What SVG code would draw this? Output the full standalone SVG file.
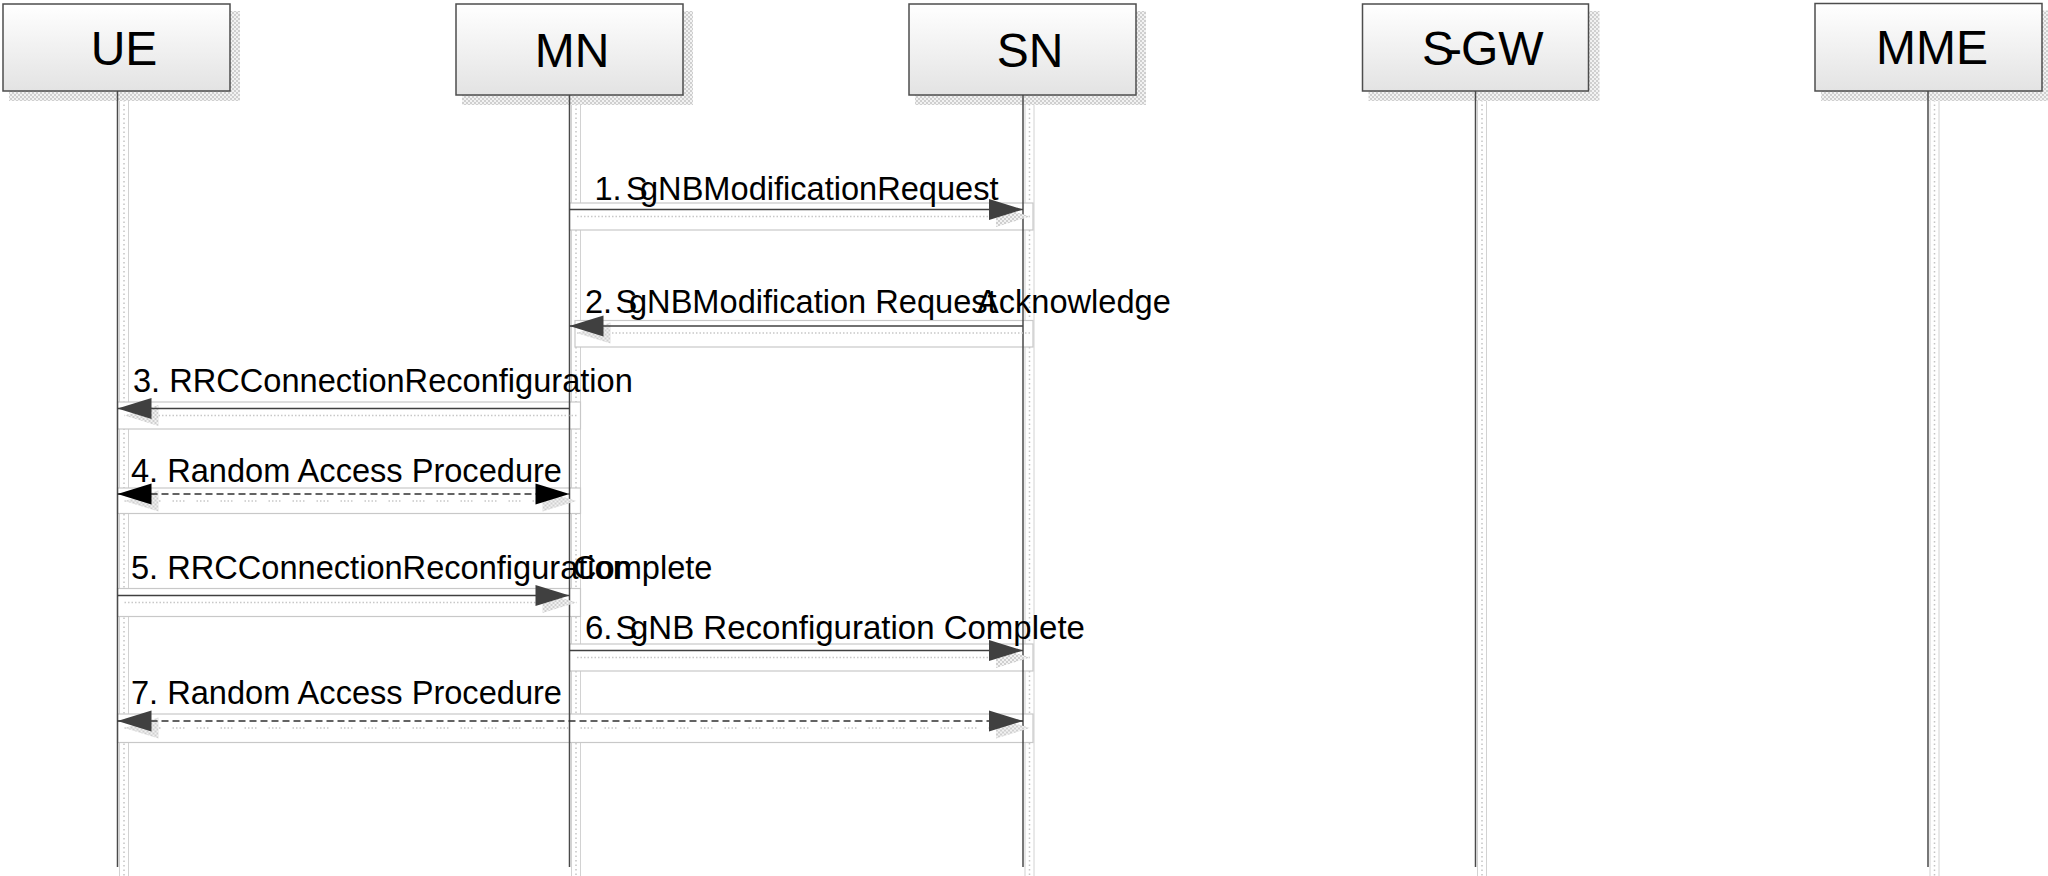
<svg xmlns="http://www.w3.org/2000/svg" width="2048" height="876" viewBox="0 0 2048 876">
  <defs>
    <linearGradient id="boxGrad" x1="0" y1="0" x2="0" y2="1">
      <stop offset="0" stop-color="#ffffff"/>
      <stop offset="1" stop-color="#e3e3e3"/>
    </linearGradient>
    <pattern id="checker" width="4" height="4" patternUnits="userSpaceOnUse">
      <rect width="4" height="4" fill="#f2f2f2"/>
      <rect width="2" height="2" fill="#cfcfcf"/>
      <rect x="2" y="2" width="2" height="2" fill="#cfcfcf"/>
    </pattern>
    <marker id="head" markerUnits="userSpaceOnUse" markerWidth="36" markerHeight="24" refX="34" refY="10.5" orient="auto-start-reverse" overflow="visible">
      <path d="M0,0 L34,10.5 L0,21 Z" fill="#404040"/>
    </marker>
    <marker id="headBlack" markerUnits="userSpaceOnUse" markerWidth="36" markerHeight="24" refX="34" refY="10.5" orient="auto-start-reverse" overflow="visible">
      <path d="M0,0 L34,10.5 L0,21 Z" fill="#000000"/>
    </marker>
    <marker id="headShadow" markerUnits="userSpaceOnUse" markerWidth="36" markerHeight="24" refX="34" refY="10.5" orient="auto-start-reverse" overflow="visible">
      <path d="M0,0 L34,10.5 L0,21 Z" fill="url(#checker)"/>
    </marker>
  </defs>
  <style>
    .box { fill: url(#boxGrad); stroke: #4d4d4d; stroke-width: 1.5; }
    .boxShadow { fill: url(#checker); }
    .name { font-family: "Liberation Sans", Arial, sans-serif; font-size: 48px; fill: #000; text-anchor: middle; }
    .strip { fill: #ffffff; stroke: #d2d2d2; stroke-width: 1; }
    .stripDots { stroke: #c4c4c4; stroke-width: 1.5; stroke-dasharray: 1.5 3; }
    .life { stroke: #4a4a4a; stroke-width: 1.5; }
    .msgBox { fill: #ffffff; stroke: #c8c8c8; stroke-width: 1.2; }
    .msgShadow { stroke: #c8c8c8; stroke-width: 1.5; stroke-dasharray: 1.5 2; fill: none; }
    .msgShadowDash { stroke: #c8c8c8; stroke-width: 1.5; stroke-dasharray: 1.5 2 1.5 2 1.5 2 1.5 12; fill: none; }
    .msg { stroke: #404040; stroke-width: 1.5; fill: none; }
    .dash { stroke: #303030; stroke-width: 1.5; stroke-dasharray: 7 4; fill: none; }
    .label { font-family: "Liberation Sans", Arial, sans-serif; font-size: 32.6px; fill: #000; }
  </style>

  <!-- lifeline shadow strips -->
  <g id="lifeline-shadows">
    <rect class="strip" x="119.5" y="91" width="9" height="790"/>
    <line class="stripDots" x1="124" y1="100" x2="124" y2="876"/>
    <rect class="strip" x="571.5" y="95" width="9" height="790"/>
    <line class="stripDots" x1="576" y1="104" x2="576" y2="876"/>
    <rect class="strip" x="1025" y="95" width="9" height="790"/>
    <line class="stripDots" x1="1029.5" y1="104" x2="1029.5" y2="876"/>
    <rect class="strip" x="1477.5" y="91" width="9" height="790"/>
    <line class="stripDots" x1="1482" y1="100" x2="1482" y2="876"/>
    <rect class="strip" x="1930" y="91" width="9" height="790"/>
    <line class="stripDots" x1="1934.5" y1="100" x2="1934.5" y2="876"/>
  </g>

  <!-- nodes -->
  <g id="node-UE">
    <rect class="boxShadow" x="9" y="11" width="231" height="90"/>
    <rect class="box" x="3" y="4" width="227" height="87"/>
    <text class="name" x="124" y="65">UE</text>
  </g>
  <g id="node-MN">
    <rect class="boxShadow" x="462" y="11" width="231" height="94"/>
    <rect class="box" x="456" y="4" width="227" height="91"/>
    <text class="name" x="572" y="67">MN</text>
  </g>
  <g id="node-SN">
    <rect class="boxShadow" x="915" y="11" width="231" height="94"/>
    <rect class="box" x="909" y="4" width="227" height="91"/>
    <text class="name" x="1030" y="67">SN</text>
  </g>
  <g id="node-SGW">
    <rect class="boxShadow" x="1368.5" y="11" width="231" height="90"/>
    <rect class="box" x="1362.5" y="4" width="226" height="87"/>
    <text class="name" style="text-anchor:start" y="64.5"><tspan x="1422">S</tspan><tspan x="1446">-</tspan><tspan x="1461">GW</tspan></text>
  </g>
  <g id="node-MME">
    <rect class="boxShadow" x="1821" y="10.5" width="231" height="90.5"/>
    <rect class="box" x="1815" y="3.5" width="227" height="87.5"/>
    <text class="name" x="1932" y="64">MME</text>
  </g>

  <!-- connectors -->
  <g id="connectors">
    <!-- message backgrounds -->
    <rect class="msgBox" x="569.5" y="203" width="463.5" height="27"/>
    <rect class="msgBox" x="575" y="320.5" width="458" height="26.5"/>
    <rect class="msgBox" x="117.5" y="402" width="463" height="27"/>
    <rect class="msgBox" x="117.5" y="488" width="463" height="25.5"/>
    <rect class="msgBox" x="117.5" y="588.5" width="463" height="28"/>
    <rect class="msgBox" x="569.5" y="644" width="463.5" height="27"/>
    <rect class="msgBox" x="117.5" y="714" width="915.5" height="28.5"/>

    <!-- lifelines -->
    <line class="life" x1="117.5" y1="91" x2="117.5" y2="867"/>
    <line class="life" x1="569.5" y1="95" x2="569.5" y2="867"/>
    <line class="life" x1="1023" y1="95" x2="1023" y2="867"/>
    <line class="life" x1="1475.5" y1="91" x2="1475.5" y2="867"/>
    <line class="life" x1="1928" y1="91" x2="1928" y2="867"/>

    <!-- message shadows -->
    <line class="msgShadow" x1="577" y1="216.5" x2="1030" y2="216.5" marker-end="url(#headShadow)"/>
    <line class="msgShadow" x1="1030" y1="333" x2="576.5" y2="333" marker-end="url(#headShadow)"/>
    <line class="msgShadow" x1="576.5" y1="415.5" x2="124.5" y2="415.5" marker-end="url(#headShadow)"/>
    <line class="msgShadowDash" x1="124.5" y1="501" x2="576.5" y2="501" marker-start="url(#headShadow)" marker-end="url(#headShadow)"/>
    <line class="msgShadow" x1="124.5" y1="602.5" x2="576.5" y2="602.5" marker-end="url(#headShadow)"/>
    <line class="msgShadow" x1="577" y1="657.5" x2="1030" y2="657.5" marker-end="url(#headShadow)"/>
    <line class="msgShadowDash" x1="124.5" y1="728" x2="1030" y2="728" marker-start="url(#headShadow)" marker-end="url(#headShadow)"/>

    <!-- messages -->
    <line id="m1" class="msg" x1="569.5" y1="209.5" x2="1023" y2="209.5" marker-end="url(#head)"/>
    <line id="m2" class="msg" x1="1023" y1="326" x2="569.5" y2="326" marker-end="url(#head)"/>
    <line id="m3" class="msg" x1="569.5" y1="408.5" x2="117.5" y2="408.5" marker-end="url(#head)"/>
    <line id="m4" class="dash" x1="117.5" y1="494" x2="569.5" y2="494" marker-start="url(#headBlack)" marker-end="url(#headBlack)"/>
    <line id="m5" class="msg" x1="117.5" y1="595.5" x2="569.5" y2="595.5" marker-end="url(#head)"/>
    <line id="m6" class="msg" x1="569.5" y1="650.5" x2="1023" y2="650.5" marker-end="url(#head)"/>
    <line id="m7" class="dash" x1="117.5" y1="721" x2="1023" y2="721" marker-start="url(#head)" marker-end="url(#head)"/>
  </g>

  <!-- labels -->
  <g id="labels">
    <text class="label" y="200"><tspan x="594.5">1.</tspan> <tspan x="626">S</tspan><tspan x="640">gNBModificationRequest</tspan></text>
    <text class="label" y="313"><tspan x="585">2.</tspan> <tspan x="615.5">S</tspan><tspan x="629">gNBModification Request</tspan> <tspan x="977">Acknowledge</tspan></text>
    <text class="label" x="133" y="392">3. RRCConnectionReconfiguration</text>
    <text class="label" x="131" y="482">4. Random Access Procedure</text>
    <text class="label" y="579"><tspan x="131">5. RRCConnectionReconfiguration</tspan> <tspan x="573">Complete</tspan></text>
    <text class="label" style="font-size:33px" y="639"><tspan x="585">6.</tspan> <tspan x="615.5">S</tspan><tspan x="630">gNB Reconfiguration Complete</tspan></text>
    <text class="label" x="131" y="704">7. Random Access Procedure</text>
  </g>
</svg>
